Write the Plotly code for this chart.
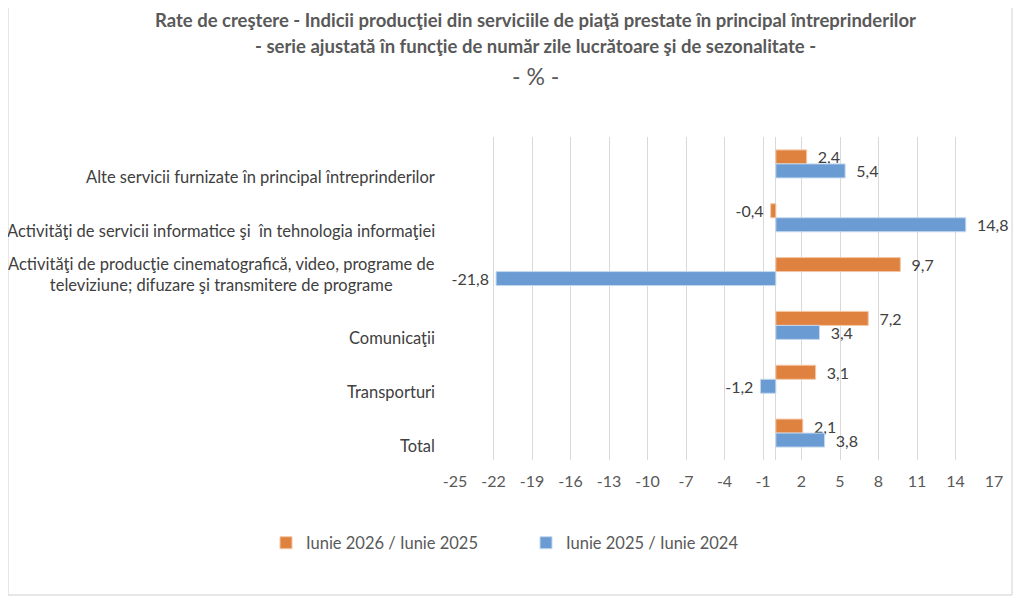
import plotly.graph_objects as go

categories = [
    "Alte servicii furnizate în principal întreprinderilor",
    "Activităţi de servicii informatice şi  în tehnologia informaţiei",
    "Activităţi de producţie cinematografică, video, programe de<br>televiziune; difuzare şi transmitere de programe",
    "Comunicaţii",
    "Transporturi",
    "Total",
]
series_2026 = [2.4, -0.4, 9.7, 7.2, 3.1, 2.1]
series_2025 = [5.4, 14.8, -21.8, 3.4, -1.2, 3.8]
name_2026 = "Iunie 2026 / Iunie 2025"
name_2025 = "Iunie 2025 / Iunie 2024"
tick_values = list(range(-25, 18, 3))

title_lines = [
    "Rate de creştere - Indicii producţiei din serviciile de piaţă prestate în principal întreprinderilor",
    "- serie ajustată în funcţie de număr zile lucrătoare şi de sezonalitate -",
    "- % -",
]

FONT = "Lato"
TXT = "#404040"
GRAY = "#595959"
ORANGE = "#E0823F"
BLUE = "#6A9BD2"

# page-coordinate geometry (the html body adds an 8px offset)
OFF = 8
PL, PR, PT, PB = 455, 994, 137, 460
PW, PH = PR - PL, PB - PT
FW, FH = 1024 - OFF, 604 - OFF


def px(x):
    return (x - PL) / PW


def py(y):
    return (PB - y) / PH


def fmt(v):
    s = f"{v:.1f}".replace(".", ",")
    # small padding between bar end and its label
    return ("\u00a0\u00a0" + s) if v >= 0 else (s + "\u00a0")


fig = go.Figure()
fig.add_trace(go.Bar(
    y=categories, x=series_2026, orientation="h", name=name_2026,
    marker=dict(color=ORANGE, line=dict(color="#F3C6A5", width=1)),
    text=[fmt(v) for v in series_2026], textposition="outside",
    constraintext="none",
    textfont=dict(family=FONT, size=16, color=TXT), cliponaxis=False,
))
fig.add_trace(go.Bar(
    y=categories, x=series_2025, orientation="h", name=name_2025,
    marker=dict(color=BLUE, line=dict(color="#C5D8EE", width=1)),
    text=[fmt(v) for v in series_2025], textposition="outside",
    constraintext="none",
    textfont=dict(family=FONT, size=16, color=TXT), cliponaxis=False,
))

# category labels as centered multi-line annotations (bottom-aligned like Excel)
for c in categories:
    fig.add_annotation(
        x=0, xref="paper", y=c, yref="y", xanchor="right", xshift=-18,
        yanchor="bottom", yshift=-25,
        text=c, showarrow=False, align="center",
        font=dict(family=FONT, size=16.5, color=TXT),
    )

title_y = [20, 46, 76]
title_sizes = [18.5, 18.5, 23]
for i, (t, ty, sz) in enumerate(zip(title_lines, title_y, title_sizes)):
    fig.add_annotation(
        x=px(535), xref="paper", y=py(ty), yref="paper",
        xanchor="center", yanchor="middle",
        text=f"<b>{t}</b>" if i < 2 else t,
        showarrow=False, font=dict(family=FONT, size=sz, color=GRAY),
    )

fig.add_shape(
    type="rect", xref="paper", yref="paper",
    x0=px(8), x1=px(1012), y0=py(595), y1=py(5),
    line=dict(color="#D0D0D0", width=1), layer="below",
)

fig.update_layout(
    width=FW, height=FH,
    margin=dict(l=PL - OFF, r=FW - (PR - OFF), t=PT - OFF, b=FH - (PB - OFF)),
    paper_bgcolor="white", plot_bgcolor="white",
    barmode="group", bargap=0.48, bargroupgap=0,
    font=dict(family=FONT, size=15, color=TXT),
    showlegend=True,
    legend=dict(
        orientation="h", x=px(266), xanchor="left",
        y=py(543), yanchor="middle",
        font=dict(family=FONT, size=16.5, color=GRAY),
        entrywidth=215, entrywidthmode="pixels",
        itemclick=False, itemdoubleclick=False,
    ),
    xaxis=dict(
        range=[-25, 17], tickmode="array", tickvals=tick_values,
        ticktext=[str(v) for v in tick_values],
        showgrid=True, gridcolor="#D9D9D9", gridwidth=1,
        zeroline=True, zerolinecolor="#D9D9D9", zerolinewidth=1,
        showline=False, ticks="", ticklen=0, ticklabelstandoff=10,
        tickfont=dict(family=FONT, size=16, color=GRAY),
        fixedrange=True,
    ),
    yaxis=dict(
        autorange="reversed", showticklabels=False, showgrid=False,
        zeroline=False, showline=False, ticks="", fixedrange=True,
    ),
)

fig.write_html("out.html")
